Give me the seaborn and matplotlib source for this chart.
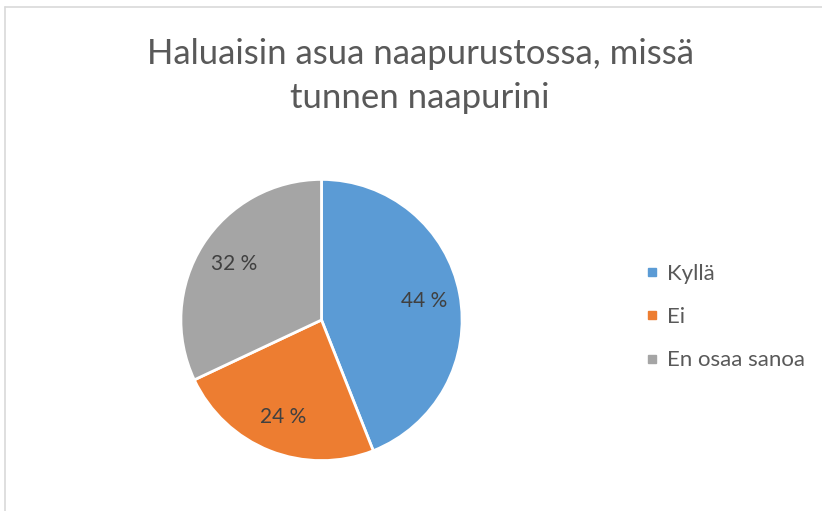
import matplotlib
matplotlib.use("Agg")
import matplotlib.pyplot as plt
import seaborn as sns
from matplotlib.lines import Line2D

# data
labels = ["Kyllä", "Ei", "En osaa sanoa"]
shares = [44, 24, 32]
colors = ["#5B9BD5", "#ED7D31", "#A5A5A5"]
title = "Haluaisin asua naapurustossa, missä\ntunnen naapurini"

sns.set_theme(style="white")
plt.rcParams["font.family"] = ["Lato", "DejaVu Sans"]
text_col = "#595959"

fig = plt.figure(figsize=(8.22, 5.11), dpi=100)

# light chart border (top and left visible)
fig.add_artist(Line2D([5 / 822, 5 / 822], [0, 1 - 7 / 511], color="#D9D9D9", lw=1.2))
fig.add_artist(Line2D([5 / 822, 1], [1 - 7 / 511, 1 - 7 / 511], color="#D9D9D9", lw=1.2))

# pie axes: center ~ (321.5, 320) px, radius ~142 px
r = 142
ax = fig.add_axes([(321.5 - r) / 822, (511 - 320 - r) / 511, 2 * r / 822, 2 * r / 511])
wedges, _, autotexts = ax.pie(
    shares, colors=colors, startangle=90, counterclock=False,
    autopct=lambda p: f"{p:.0f} %", pctdistance=0.74,
    wedgeprops=dict(edgecolor="white", linewidth=2),
    textprops=dict(color="#404040", fontsize=15),
)
ax.set_xlim(-1.01, 1.01)
ax.set_ylim(-1.01, 1.01)
ax.set_aspect("equal")

fig.text(420 / 822, 1 - 76 / 511, title, ha="center", va="center",
         fontsize=25, color=text_col, linespacing=1.45)

handles = [Line2D([], [], marker="s", ls="", color=c, markersize=6) for c in colors]
fig.legend(handles, labels, loc="center left", bbox_to_anchor=(624 / 822, 1 - 317 / 511),
           frameon=False, fontsize=16, labelcolor=text_col, handlelength=0.7,
           handletextpad=0.35, labelspacing=1.05)

fig.savefig("out.png", dpi=100)
